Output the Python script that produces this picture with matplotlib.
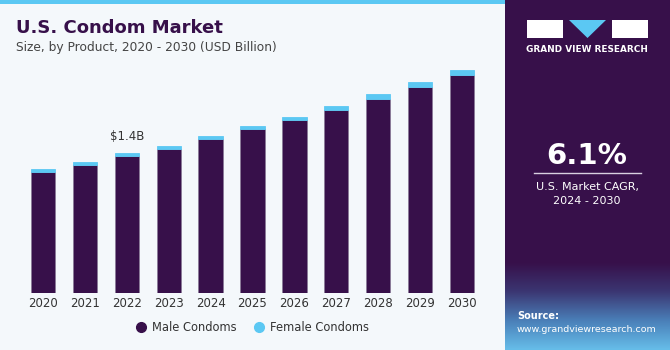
import numpy as np
import matplotlib.pyplot as plt
from matplotlib.patches import Rectangle, Polygon
from matplotlib.lines import Line2D
from matplotlib.colors import LinearSegmentedColormap

# ## Chart data (USD Billion)
years = ['2020', '2021', '2022', '2023', '2024', '2025', '2026', '2027', '2028', '2029', '2030']
male = [1.21, 1.28, 1.37, 1.44, 1.54, 1.64, 1.74, 1.835, 1.95, 2.07, 2.19]
female = [0.034, 0.034, 0.031, 0.033, 0.037, 0.037, 0.028, 0.043, 0.047, 0.047, 0.05]
series = ['Male Condoms', 'Female Condoms']
label_year = '2022'
label_text = '$1.4B'
cagr = '6.1%'

purple = '#37104a'
blue = '#5bc8f3'
bg = '#f4f8fb'

W, H = 670, 350
fig = plt.figure(figsize=(W / 100, H / 100), dpi=100)
fig.patch.set_facecolor(bg)

# background pieces drawn in pixel coords on a full-figure axis
bgax = fig.add_axes([0, 0, 1, 1], zorder=-1)
bgax.axis('off')
bgax.add_patch(Rectangle((0, 0), 505, 4, color=blue, lw=0))
bgax.add_patch(Rectangle((505, 0), 165, 350, color=purple, lw=0, zorder=1))
# gradient at the bottom of the right panel
grad = np.linspace(0, 1, 100).reshape(-1, 1)
cmap = LinearSegmentedColormap.from_list('g', [purple, '#3b3672', '#4a7fb8', '#66bde9'])
bgax.imshow(grad, extent=(505, 670, 350, 262), origin='upper', cmap=cmap, aspect='auto', zorder=2)
bgax.set_xlim(0, W)
bgax.set_ylim(H, 0)

# logo
bgax.add_patch(Rectangle((527, 20), 36, 18, color='white', lw=0, zorder=3))
bgax.add_patch(Rectangle((612, 20), 36, 18, color='white', lw=0, zorder=3))
bgax.add_patch(Polygon([[569, 20], [606, 20], [587.5, 38]], color=blue, lw=0, zorder=3))
bgax.text(587, 50, 'GRAND VIEW RESEARCH', color='white', fontsize=6.4, fontweight='bold',
          ha='center', va='center', zorder=3)

# CAGR block
bgax.text(587, 156, cagr, color='white', fontsize=21, fontweight='bold', ha='center', va='center', zorder=3)
bgax.plot([534, 641], [173, 173], color='#d8d0e0', lw=1, zorder=3)
bgax.text(587, 187, 'U.S. Market CAGR,', color='white', fontsize=8, ha='center', va='center', zorder=3)
bgax.text(587, 201, '2024 - 2030', color='white', fontsize=8, ha='center', va='center', zorder=3)
bgax.text(517, 316, 'Source:', color='white', fontsize=7, fontweight='bold', ha='left', va='center', zorder=3)
bgax.text(517, 330, 'www.grandviewresearch.com', color='white', fontsize=6.8, ha='left', va='center', zorder=3)

# titles
fig.text(16 / W, 1 - 28 / H, 'U.S. Condom Market', color=purple, fontsize=13, fontweight='bold',
         ha='left', va='center')
fig.text(16 / W, 1 - 48 / H, 'Size, by Product, 2020 - 2030 (USD Billion)', color='#444444',
         fontsize=8.8, ha='left', va='center')

# ## Bar chart
ax = fig.add_axes([22 / W, 1 - 293 / H, (483 - 22) / W, (293 - 53.7) / H])
ax.set_facecolor('none')
x = np.arange(len(years))
ax.bar(x, male, width=0.58, color=purple, edgecolor='#8a7a98', linewidth=0.6)
ax.bar(x, female, bottom=male, width=0.58, color=blue, edgecolor=blue, linewidth=0.6)
ax.set_xlim(-0.5, len(years) - 0.5)
ax.set_ylim(0, 2.4)
ax.set_xticks(x)
ax.set_xticklabels(years, fontsize=8.5, color='#333333')
ax.tick_params(axis='x', length=0, pad=3)
ax.set_yticks([])
for s in ax.spines.values():
    s.set_visible(False)

i = years.index(label_year)
ax.text(i, male[i] + female[i] + 0.1, label_text, ha='center', va='bottom', fontsize=8.5, color='#333333')

handles = [Line2D([], [], marker='o', ls='', color=purple, markersize=7),
           Line2D([], [], marker='o', ls='', color=blue, markersize=7)]
leg = ax.legend(handles, series, loc='upper center', bbox_to_anchor=(0.5, -0.075), ncol=2, frameon=False,
                fontsize=8.3, handlelength=0.8, columnspacing=1.5, handletextpad=0.6)
for t in leg.get_texts():
    t.set_color('#333333')

fig.savefig('out.png', dpi=100, facecolor=fig.get_facecolor())
